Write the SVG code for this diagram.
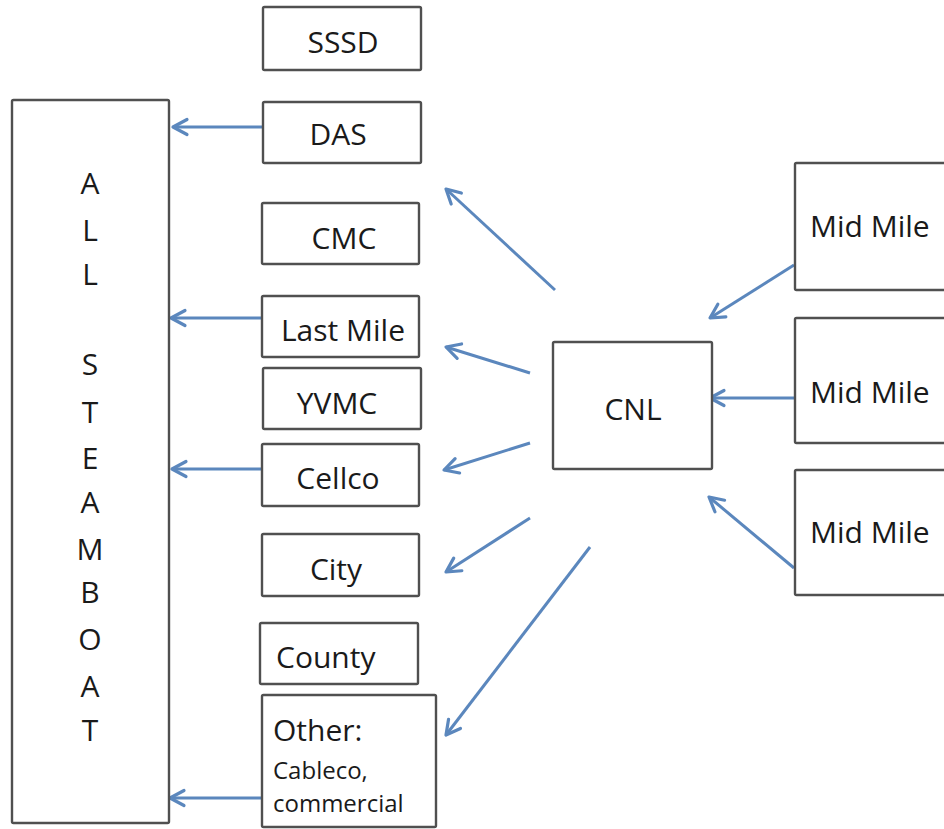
<svg xmlns="http://www.w3.org/2000/svg" width="944" height="829" viewBox="0 0 944 829">
<defs>
<style>
.box{fill:#fff;stroke:#505050;stroke-width:2.4}
.t{font-family:"Open Sans","Noto Sans","DejaVu Sans",sans-serif;font-size:30px;fill:#1a1a1a}
.tm{text-anchor:middle}
.s{font-size:24px}
.c{fill:none;stroke:#5b87bd;stroke-width:3;marker-end:url(#ah)}
</style>
<marker id="ah" markerUnits="userSpaceOnUse" markerWidth="22" markerHeight="22" viewBox="0 0 22 22" refX="19" refY="11" orient="auto">
<path d="M5,3.5 L19,11 L5,18.5" fill="none" stroke="#5b87bd" stroke-width="3.2" stroke-linecap="round" stroke-linejoin="round"/>
</marker>
</defs>
<rect width="944" height="829" fill="#fff"/>
<g id="connectors">
<line class="c" x1="263" y1="127" x2="173" y2="127"/>
<line class="c" x1="262" y1="318" x2="171" y2="318"/>
<line class="c" x1="268" y1="469" x2="172" y2="469"/>
<line class="c" x1="262" y1="798" x2="170" y2="798"/>
<line class="c" x1="555" y1="290" x2="446" y2="189"/>
<line class="c" x1="530" y1="373" x2="446" y2="347"/>
<line class="c" x1="530" y1="443" x2="444" y2="470"/>
<line class="c" x1="530" y1="518" x2="446" y2="572"/>
<line class="c" x1="590" y1="547" x2="446" y2="735"/>
<line class="c" x1="794" y1="265" x2="710" y2="318"/>
<line class="c" x1="794" y1="398" x2="710" y2="398"/>
<line class="c" x1="794" y1="568" x2="709" y2="497"/>
</g>
<g id="allsteamboat">
<rect class="box" x="12" y="100" width="157" height="723" rx="1.5"/>
<g class="t tm">
<text x="90" y="194">A</text>
<text x="90" y="241">L</text>
<text x="90" y="285">L</text>
<text x="90" y="375">S</text>
<text x="90" y="423">T</text>
<text x="90" y="469">E</text>
<text x="90" y="513">A</text>
<text x="90" y="560">M</text>
<text x="90" y="603">B</text>
<text x="90" y="650">O</text>
<text x="90" y="697">A</text>
<text x="90" y="741">T</text>
</g>
</g>
<g id="sssd"><rect class="box" x="263" y="7" width="158" height="63" rx="1.5"/><text class="t tm" x="343" y="53">SSSD</text></g>
<g id="das"><rect class="box" x="263" y="102" width="158" height="61" rx="1.5"/><text class="t tm" x="338" y="145">DAS</text></g>
<g id="cmc"><rect class="box" x="262" y="203" width="157" height="61" rx="1.5"/><text class="t tm" x="344" y="249">CMC</text></g>
<g id="lastmile"><rect class="box" x="262" y="296" width="157" height="61" rx="1.5"/><text class="t tm" x="343" y="341">Last Mile</text></g>
<g id="yvmc"><rect class="box" x="263" y="368" width="158" height="61" rx="1.5"/><text class="t tm" x="337" y="414">YVMC</text></g>
<g id="cellco"><rect class="box" x="262" y="444" width="157" height="62" rx="1.5"/><text class="t tm" x="338" y="489">Cellco</text></g>
<g id="city"><rect class="box" x="262" y="534" width="157" height="62" rx="1.5"/><text class="t tm" x="336" y="580">City</text></g>
<g id="county"><rect class="box" x="260" y="623" width="158" height="61" rx="1.5"/><text class="t" x="276" y="668">County</text></g>
<g id="other"><rect class="box" x="262" y="695" width="174" height="132" rx="1.5"/>
<text class="t" x="273" y="741">Other:</text>
<text class="t s" x="273" y="779">Cableco,</text>
<text class="t s" x="273" y="812">commercial</text></g>
<g id="cnl"><rect class="box" x="553" y="342" width="159" height="127" rx="1.5"/><text class="t tm" x="633" y="420">CNL</text></g>
<g id="midmile1"><rect class="box" x="795" y="163" width="170" height="127" rx="1.5"/><text class="t" x="810" y="237">Mid Mile</text></g>
<g id="midmile2"><rect class="box" x="795" y="318" width="170" height="125" rx="1.5"/><text class="t" x="810" y="403">Mid Mile</text></g>
<g id="midmile3"><rect class="box" x="795" y="470" width="170" height="125" rx="1.5"/><text class="t" x="810" y="543">Mid Mile</text></g>
</svg>
